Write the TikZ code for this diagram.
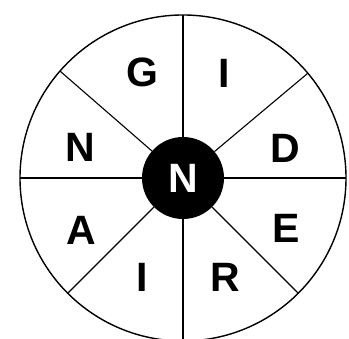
\documentclass[tikz,border=0pt]{standalone}
\usepackage{fontspec}
\setmainfont{Liberation Sans}
\usetikzlibrary{positioning}

\begin{document}
\begin{tikzpicture}[x=1pt,y=1pt,
  rim/.style={circle,draw=black,line width=1.4pt,minimum size=326pt,
              inner sep=0pt,outer sep=0pt},
  hub/.style={circle,fill=black,text=white,minimum size=82pt,inner sep=0pt,
              outer sep=0pt,font=\fontsize{41}{41}\selectfont\bfseries},
  spoke/.style={line width=1.1pt,black},
  letter/.style={font=\fontsize{41}{41}\selectfont\bfseries,inner sep=0pt,anchor=base}
]
\useasboundingbox (0,0) rectangle (349,339);
\node[rim] (wheel) at (183,161) {};
\node[hub] (hub)   at (183,161) {N};
\draw[spoke] (hub) -- (wheel.90);
\draw[spoke] (hub) -- (wheel.40.8);
\draw[spoke] (hub) -- (wheel.0);
\draw[spoke] (hub) -- (wheel.-45);
\draw[spoke] (hub) -- (wheel.-90);
\draw[spoke] (hub) -- (wheel.-135);
\draw[spoke] (hub) -- (wheel.180);
\draw[spoke] (hub) -- (wheel.139.2);
\node[letter] (g)  at (142,252)   {G};
\node[letter] (i1) at (224,251)   {I};
\node[letter] (d)  at (285.5,176) {D};
\node[letter] (e)  at (286,96)    {E};
\node[letter] (r)  at (225,47)    {R};
\node[letter] (i2) at (142.5,47)  {I};
\node[letter] (a)  at (81,94)     {A};
\node[letter] (n)  at (80.5,177)  {N};
\end{tikzpicture}
\end{document}
